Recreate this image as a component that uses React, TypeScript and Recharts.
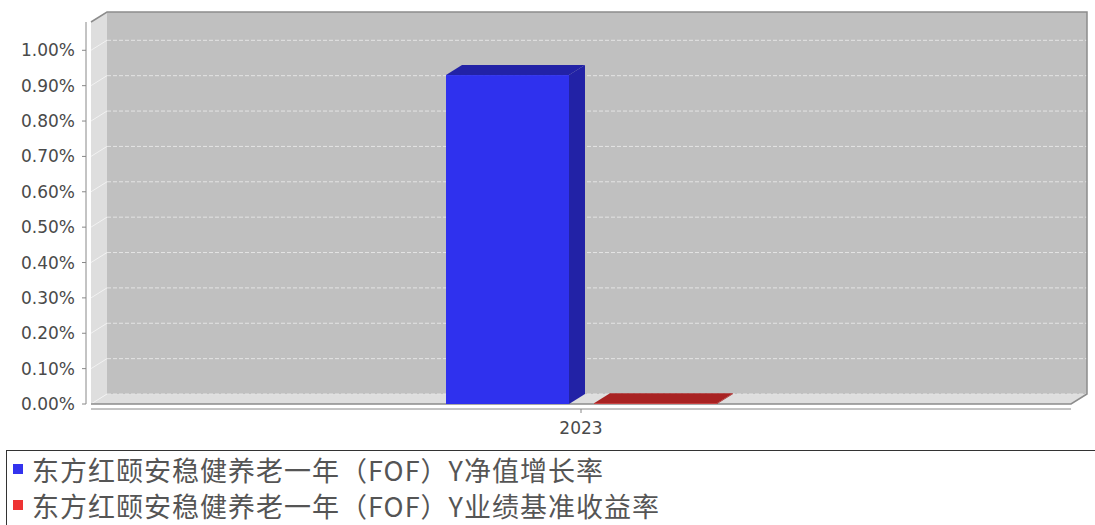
import React from 'react'
import { BarChart, Bar, XAxis, YAxis, ReferenceArea } from 'recharts'

const years = ['2023']
const navGrowth = [0.93]
const benchmarkReturn = [0.002]
const yTicks = [0, 0.1, 0.2, 0.3, 0.4, 0.5, 0.6, 0.7, 0.8, 0.9, 1.0]
const seriesNames = [
  '东方红颐安稳健养老一年（FOF）Y净值增长率',
  '东方红颐安稳健养老一年（FOF）Y业绩基准收益率',
]
const seriesColors = ['#3333ee', '#ee3333']

const Y_MAX = 1.08
// 3D depth offset
const DX = 16
const DY = 10

const data = years.map((year, i) => ({
  year,
  nav: navGrowth[i],
  bench: benchmarkReturn[i],
}))

// back wall, left wall and floor, drawn over the full plot area
function Walls(props: any) {
  const { x, y, width, height } = props
  const bottom = y + height
  const gridYs = yTicks.map((t) => bottom - (t / Y_MAX) * height)
  return (
    <g>
      <rect x={x + DX} y={y - DY} width={width} height={height} fill="#c0c0c0" />
      <polygon
        points={`${x},${y} ${x + DX},${y - DY} ${x + DX},${bottom - DY} ${x},${bottom}`}
        fill="#dedede"
      />
      <polygon
        points={`${x},${bottom} ${x + DX},${bottom - DY} ${x + width + DX},${bottom - DY} ${x + width},${bottom}`}
        fill="#dedede"
      />
      {gridYs.map((gy, i) => (
        <g key={i}>
          <line x1={x} y1={gy} x2={x + DX} y2={gy - DY} stroke="#f2f2f2" strokeWidth={1} />
          <line
            x1={x + DX}
            y1={gy - DY}
            x2={x + width + DX}
            y2={gy - DY}
            stroke="#e4e4e4"
            strokeDasharray="4 2"
          />
        </g>
      ))}
      <polyline
        points={`${x},${bottom} ${x + width},${bottom} ${x + width + DX},${bottom - DY} ${x + width + DX},${y - DY} ${x + DX},${y - DY} ${x},${y}`}
        fill="none"
        stroke="#8c8c8c"
        strokeWidth={1.5}
      />
    </g>
  )
}

function Bar3D(props: any) {
  const { x, y, width, height, front, dark } = props
  const h = Math.max(height, 0)
  return (
    <g>
      <polygon
        points={`${x + width},${y} ${x + width + DX},${y - DY} ${x + width + DX},${y + h - DY} ${x + width},${y + h}`}
        fill={dark}
      />
      <polygon
        points={`${x},${y} ${x + DX},${y - DY} ${x + width + DX},${y - DY} ${x + width},${y}`}
        fill={dark}
      />
      <rect x={x} y={y} width={width} height={h} fill={front} />
    </g>
  )
}

export default function App() {
  return (
    <div style={{ width: 1095, height: 525, overflow: 'hidden', background: '#fff', position: 'relative' }}>
      <style>{'body{margin:0}'}</style>
      <BarChart
        width={1095}
        height={445}
        data={data}
        margin={{ top: 22, right: 24, left: 0, bottom: 0 }}
        barCategoryGap={355}
        barGap={25}
      >
        <ReferenceArea y1={0} y2={Y_MAX} shape={(p: any) => <Walls {...p} />} ifOverflow="visible" />
        <XAxis
          dataKey="year"
          height={41}
          axisLine={{ stroke: '#888', transform: 'translate(0,5)' }}
          tickLine={{ stroke: '#888', transform: 'translate(0,5)' }}
          tickSize={4}
          tickMargin={14}
          tick={{ fill: '#4a4a4a', fontSize: 17, fontFamily: 'DejaVu Sans' }}
        />
        <YAxis
          width={91}
          domain={[0, Y_MAX]}
          ticks={yTicks}
          allowDataOverflow
          tickFormatter={(v: number) => v.toFixed(2) + '%'}
          axisLine={{ stroke: '#888', transform: 'translate(-5,0)' }}
          tickLine={{ stroke: '#888', transform: 'translate(-5,0)' }}
          tickSize={4}
          tickMargin={12}
          tick={{ fill: '#4a4a4a', fontSize: 17, fontFamily: 'DejaVu Sans' }}
        />
        <Bar
          dataKey="nav"
          name={seriesNames[0]}
          isAnimationActive={false}
          shape={(p: any) => <Bar3D {...p} front="#2f31ee" dark="#2222a6" />}
        />
        <Bar
          dataKey="bench"
          name={seriesNames[1]}
          isAnimationActive={false}
          shape={(p: any) => <Bar3D {...p} front="#d42a2a" dark="#a82222" />}
        />
      </BarChart>
      <div
        style={{
          position: 'absolute',
          left: 6,
          top: 450,
          width: 1200,
          height: 200,
          borderTop: '1px solid #333',
          borderLeft: '1px solid #333',
          fontFamily: '"Noto Sans CJK SC", sans-serif',
          fontSize: 27,
          letterSpacing: 1,
          color: '#555',
        }}
      >
        {seriesNames.map((name, i) => (
          <div key={i} style={{ height: 36, display: 'flex', alignItems: 'center', whiteSpace: 'nowrap' }}>
            <span style={{ display: 'inline-block', width: 10, height: 10, background: seriesColors[i], marginLeft: 6, marginRight: 9 }} />
            <span style={{ lineHeight: '27px' }}>{name}</span>
          </div>
        ))}
      </div>
    </div>
  )
}
